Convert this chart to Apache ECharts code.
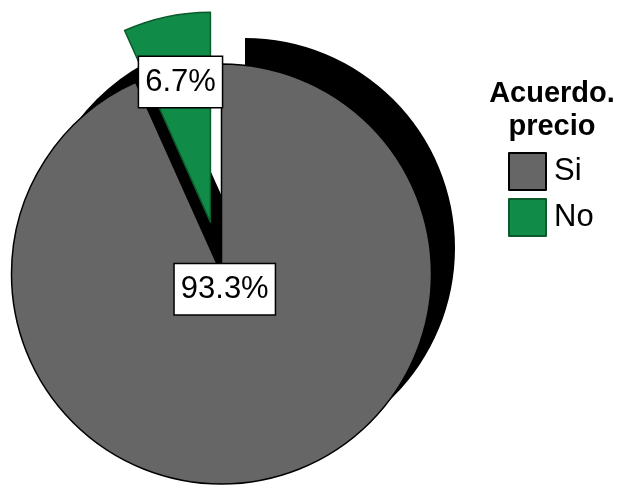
<!DOCTYPE html>
<html>
<head>
<meta charset="utf-8">
<script src="https://cdn.jsdelivr.net/npm/echarts@6/dist/echarts.min.js"></script>
<style>html,body{margin:0;padding:0;background:#fff;}#c{width:619px;height:486px;}</style>
</head>
<body>
<div id="c"></div>
<script>
const categories = ['Si', 'No'];
const percents = [93.3, 6.7];
const legendTitle = 'Acuerdo.\nprecio';

const FONT = '"Liberation Sans", Arial, Helvetica, sans-serif';
const fills = ['#666666', '#118b48'];
const borders = ['#000000', '#0b5a2c'];
const pieCenter = [221.5, 274];
const shadowCenter = [245, 248];
const R = 210;

const chart = echarts.init(document.getElementById('c'), null, {renderer: 'canvas'});

const labelStyle = {
  show: true,
  position: 'inside',
  formatter: p => percents[p.dataIndex].toFixed(1) + '%',
  fontFamily: FONT,
  fontSize: 31,
  lineHeight: 34,
  color: '#000',
  backgroundColor: '#ffffff',
  borderColor: '#000000',
  borderWidth: 1.5,
  padding: [8, 6, 8, 6]
};

function labelPie(radius, showIdx) {
  return {
    type: 'pie', z: 5, silent: true, animation: false,
    center: pieCenter, radius: radius, startAngle: 90, clockwise: true,
    avoidLabelOverlap: false, labelLine: {show: false},
    emphasis: {disabled: true},
    data: categories.map((c, i) => ({
      name: '_lbl_' + c, value: percents[i],
      itemStyle: {color: 'rgba(0,0,0,0)', borderWidth: 0},
      label: i === showIdx ? labelStyle : {show: false}
    }))
  };
}

const option = {
  animation: false,
  backgroundColor: '#ffffff',
  title: {
    text: legendTitle,
    left: 552, top: 77, padding: 0,
    textAlign: 'center',
    textStyle: {fontFamily: FONT, fontSize: 29, fontWeight: 'bold', lineHeight: 33, color: '#000'}
  },
  legend: {
    orient: 'vertical',
    left: 508, top: 152, padding: 0,
    itemWidth: 37, itemHeight: 37, itemGap: 7,
    icon: 'rect',
    selectedMode: false,
    textStyle: {fontFamily: FONT, fontSize: 31, color: '#000', padding: [0, 0, 0, 3]},
    data: categories.map((c, i) => ({
      name: c,
      itemStyle: {color: fills[i], borderColor: borders[i], borderWidth: 2}
    }))
  },
  series: [
    {
      type: 'pie', z: 1, silent: true, animation: false,
      center: shadowCenter, radius: R, startAngle: 90, clockwise: true,
      label: {show: false}, labelLine: {show: false},
      emphasis: {disabled: true},
      data: categories.map((c, i) => ({
        name: '_shadow_' + c, value: percents[i],
        itemStyle: {color: i === 0 ? '#000000' : 'rgba(0,0,0,0)', borderWidth: 0}
      }))
    },
    {
      type: 'pie', z: 2, animation: false,
      center: pieCenter, radius: R, startAngle: 90, clockwise: true,
      selectedMode: 'single', selectedOffset: 53,
      avoidLabelOverlap: false,
      label: {show: false}, labelLine: {show: false},
      emphasis: {disabled: true},
      data: categories.map((c, i) => ({
        name: c, value: percents[i], selected: i === 1,
        itemStyle: {color: fills[i], borderColor: borders[i], borderWidth: 1.5},
        select: {itemStyle: {color: fills[i], borderColor: borders[i], borderWidth: 1.5}}
      }))
    },
    labelPie([0, 25], 0),
    labelPie([180, 206.6], 1)
  ]
};
chart.setOption(option);
</script>
</body>
</html>
